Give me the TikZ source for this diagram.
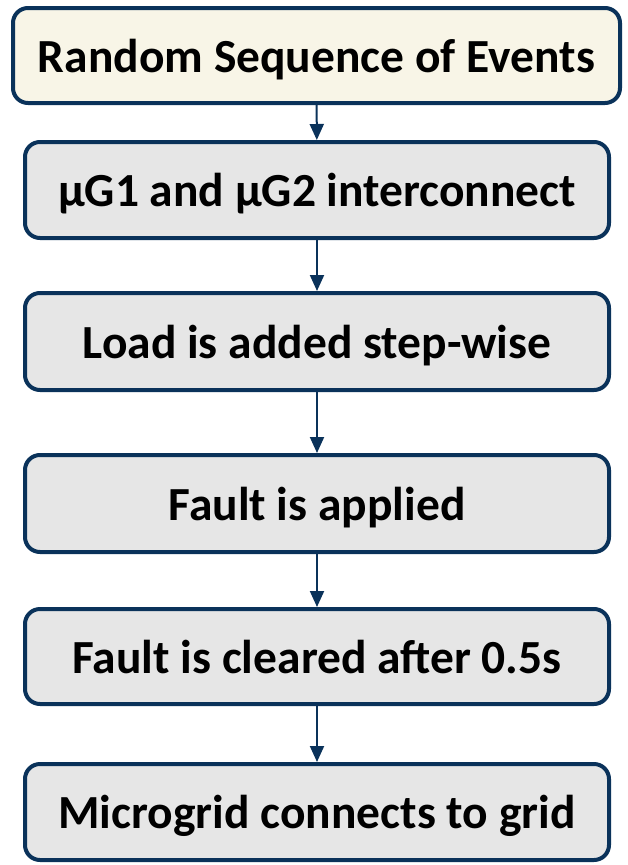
\documentclass[tikz,border=0pt]{standalone}
\usepackage{fontspec}
\setmainfont{Carlito}
\usepackage{tikz}
\usepackage{xcolor}
\usetikzlibrary{arrows.meta, positioning}
\definecolor{navy}{RGB}{10, 50, 90}
\definecolor{cream}{RGB}{248, 245, 231}
\definecolor{boxgray}{RGB}{230, 230, 230}

\tikzset{
  evbox/.style={draw=navy, line width=4pt, rounded corners=15pt, fill=boxgray,
        minimum width=584pt, minimum height=96pt, inner sep=0pt, text centered,
        text height=33pt, text depth=0pt,
        font=\bfseries\fontsize{47.5}{52}\selectfont},
  flow/.style={-{Triangle[width=14pt,length=16pt]}, navy, line width=2pt}
}

\begin{document}
\begin{tikzpicture}[x=1pt, y=-1pt]
  \useasboundingbox (0,0) rectangle (627,865);
  \node[evbox, fill=cream, minimum width=607pt, minimum height=95pt] (ev) at (316.5,55.5) {Random Sequence of Events};
  \node[evbox] (ic) at (317,190) {μG1 and μG2 interconnect};
  \node[evbox, minimum height=97pt] (ld) at (317,341.5) {Load is added step-wise};
  \node[evbox, minimum height=97pt] (flt) at (317,503.5) {Fault is applied};
  \node[evbox, minimum height=95pt] (clr) at (317,656.5) {Fault is cleared after 0.5s};
  \node[evbox] (grd) at (317,812) {Microgrid connects to grid};
  \draw[flow] (ev)--(ic);   \draw[flow] (ic)--(ld);
  \draw[flow] (ld)--(flt);  \draw[flow] (flt)--(clr);
  \draw[flow] (clr)--(grd);
\end{tikzpicture}
\end{document}
